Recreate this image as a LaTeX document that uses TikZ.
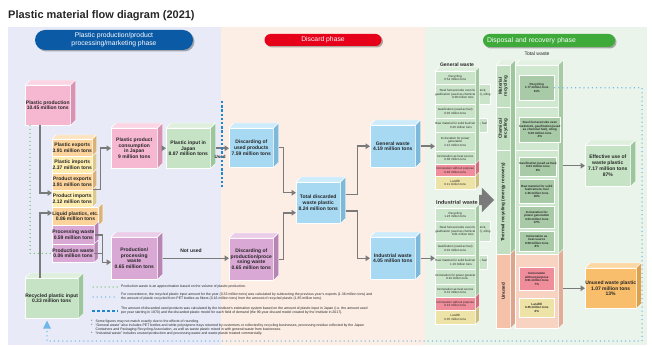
\documentclass[tikz,border=0pt]{standalone}
\usepackage{fontspec}
\setmainfont{Liberation Sans}
\usetikzlibrary{arrows.meta,calc,shapes.arrows,shadows}

% palette
\definecolor{panelA}{HTML}{E8EBF7}
\definecolor{panelB}{HTML}{FDEEE5}
\definecolor{panelC}{HTML}{EBF4EA}
\definecolor{hdBlue}{HTML}{0B5AA6}
\definecolor{hdRed}{HTML}{E60019}
\definecolor{hdGreen}{HTML}{3DAA3A}
\definecolor{pinkF}{HTML}{F6B7D0}\definecolor{pinkT}{HTML}{FAD6E4}\definecolor{pinkS}{HTML}{D893B2}
\definecolor{purpF}{HTML}{D9A8D5}\definecolor{purpT}{HTML}{EACDE8}\definecolor{purpS}{HTML}{B785B3}
\definecolor{bluF}{HTML}{A7D9F3}\definecolor{bluT}{HTML}{CDEBFA}\definecolor{bluS}{HTML}{7DB9DB}
\definecolor{grnF}{HTML}{C6E4C5}\definecolor{grnT}{HTML}{DEF0DD}\definecolor{grnS}{HTML}{9CC69B}
\definecolor{oranF}{HTML}{FBD39B}\definecolor{oranS}{HTML}{DDB073}\definecolor{oranT}{HTML}{FDE3BE}
\definecolor{yellF}{HTML}{FEEDB0}\definecolor{yellS}{HTML}{DDC98A}
\definecolor{unuF}{HTML}{F9BE6C}\definecolor{unuT}{HTML}{FCD9A4}\definecolor{unuS}{HTML}{DDA04B}
\definecolor{itemG}{HTML}{C9E4C8}\definecolor{itemGS}{HTML}{A2C7A1}\definecolor{itemGT}{HTML}{DDEEDC}
\definecolor{itemR}{HTML}{F08D9B}\definecolor{itemRS}{HTML}{D06E7C}
\definecolor{itemY}{HTML}{EEE3A6}\definecolor{itemYS}{HTML}{CBBF80}
\definecolor{colG}{HTML}{D0E8CF}\definecolor{colGS}{HTML}{A6CBA5}\definecolor{colGT}{HTML}{E2F1E1}
\definecolor{colP}{HTML}{F9D3C2}\definecolor{colPS}{HTML}{E2AD97}
\definecolor{labG}{HTML}{C2DFC1}\definecolor{labGS}{HTML}{9FC79E}\definecolor{labP}{HTML}{F6C1A9}\definecolor{labPS}{HTML}{DDA58C}
\definecolor{innG}{HTML}{A8CAA7}
\definecolor{arrGray}{HTML}{7A7A7A}
\definecolor{dotGreen}{HTML}{79C27A}
\definecolor{dotBlue}{HTML}{6DB8E6}
\definecolor{dashBlue}{HTML}{1F86CF}
\definecolor{ink}{HTML}{262626}

\newcommand\boxfont{\fontsize{5}{5.7}\selectfont\bfseries}
\newcommand\listfont{\fontsize{3}{3.5}\selectfont}
\newcommand\cellfont{\fontsize{3}{3.5}\selectfont\bfseries}
\newcommand\notefont{\fontsize{3.5}{3.9}\selectfont}
\newcommand\pillfont{\fontsize{6.8}{8}\selectfont}

% 3-D faces of a block: top face of one node, right face spanning two nodes
\newcommand\topface[3]{\filldraw[fill=#2,draw=white,line width=.4pt] (#1.north west) -- ++(#3,-#3) -- ($(#1.north east)+(#3,-#3)$) -- (#1.north east) -- cycle;}
\newcommand\sideface[4]{\filldraw[fill=#3,draw=white,line width=.4pt] (#1.north east) -- ++(#4,-#4) -- ($(#2.south east)+(#4,-#4)$) -- (#2.south east) -- cycle;}

\tikzset{
  box/.style={draw=white, line width=0.5pt, inner sep=0pt, anchor=north west, align=center, font=\boxfont, text=ink},
  item/.style={draw=white, line width=0.4pt, inner sep=0pt, anchor=north west, align=center, font=\listfont, minimum width=40, text=ink},
  cell/.style={draw=white, line width=0.6pt, inner sep=0pt, anchor=north west, align=center, font=\cellfont, minimum width=35, text=ink, fill=innG},
  slab/.style={draw=white, line width=0.4pt, inner sep=0pt, anchor=north west},
  vlabel/.style={rotate=90, align=center, font=\fontsize{4.6}{5.2}\selectfont\bfseries, text=ink},
  pill/.style={inner sep=0pt, text=white, font=\pillfont, align=center,
    drop shadow={shadow xshift=1.5pt, shadow yshift=-1.5pt, opacity=.3, fill=black}},
  arr/.style={draw=arrGray, line width=1.5pt, -{Triangle[length=4.5pt,width=5.5pt]}},
  ln/.style={draw=arrGray, line width=1.5pt},
  gdot/.style={draw=dotGreen, line width=1.5pt, line cap=round, dash pattern=on 0pt off 4pt},
  ldot/.style={draw=dotBlue, line width=1.5pt, line cap=round, dash pattern=on 0pt off 4.2pt},
  bdash/.style={draw=dashBlue, line width=2.2pt, dash pattern=on 2.4pt off 1.8pt},
  note/.style={font=\notefont, text=ink, inner sep=0pt, align=left},
}

\begin{document}
\begin{tikzpicture}[x=1pt,y=-1pt]
\useasboundingbox (0,0) rectangle (652,347);
\fill[white] (0,0) rectangle (652,347);

% phase panels
\fill[panelA] (8,27) rectangle (221,345);
\fill[panelB] (221,27) rectangle (425,345);
\fill[panelC] (425,27) rectangle (647,345);

\node[anchor=base west, inner sep=0pt, font=\fontsize{11}{13}\selectfont\bfseries, text=ink] (title) at (8,19) {Plastic material flow diagram (2021)};

% phase headers
\node[pill, fill=hdBlue, rounded corners=10pt, minimum width=158, minimum height=20] (ph1) at (114,40) {Plastic production/product\\processing/marketing phase};
\node[pill, fill=hdRed, rounded corners=6pt, minimum width=117, minimum height=12] (ph2) at (323,40) {Discard phase};
\node[pill, fill=hdGreen, rounded corners=6.5pt, minimum width=132, minimum height=13, text width=124, align=left] (ph3) at (549,40.5) {Disposal and recovery phase};

% ---------- production / marketing phase ----------
\node[box, fill=pinkF, minimum width=45, minimum height=40] (prod) at (25,85) {Plastic production\\10.45 million tons};
\topface{prod}{pinkT}{5}\sideface{prod}{prod}{pinkS}{5}

\node[box, fill=oranF, minimum width=40, minimum height=17] (s1) at (52,139) {Plastic exports\\3.91 million tons};
\node[box, fill=yellF, minimum width=40, minimum height=17] (s2) at (52,156) {Plastic imports\\2.37 million tons};
\node[box, fill=oranF, minimum width=40, minimum height=17] (s3) at (52,173) {Product exports\\3.91 million tons};
\node[box, fill=yellF, minimum width=40, minimum height=17] (s4) at (52,190) {Product imports\\2.12 million tons};
\node[box, fill=oranF, minimum width=40, minimum height=18] (s5) at (52,207) {Liquid plastics, etc.\\0.86 million tons};
\node[box, fill=purpF, minimum width=40, minimum height=19] (s6) at (52,225) {Processing waste\\0.59 million tons};
\node[box, fill=purpF, minimum width=40, minimum height=18] (s7) at (52,244) {Production waste\\0.06 million tons};
\topface{s1}{oranT}{4}
\sideface{s1}{s1}{oranS}{4}\sideface{s2}{s2}{yellS}{4}\sideface{s3}{s3}{oranS}{4}
\sideface{s4}{s4}{yellS}{4}\sideface{s5}{s5}{oranS}{4}\sideface{s6}{s6}{purpS}{4}\sideface{s7}{s7}{purpS}{4}

\node[box, fill=pinkF, minimum width=46, minimum height=40] (cons) at (111,128) {Plastic product\\consumption\\in Japan\\9 million tons};
\topface{cons}{pinkT}{5}\sideface{cons}{cons}{pinkS}{5}
\node[box, fill=grnF, minimum width=44, minimum height=40] (input) at (166,128) {Plastic input in\\Japan\\8.87 million tons};
\topface{input}{grnT}{5}\sideface{input}{input}{grnS}{5}
\node[box, fill=purpF, minimum width=46, minimum height=42] (ppw) at (111,237) {Production/\\processing\\waste\\0.65 million tons};
\topface{ppw}{purpT}{5}\sideface{ppw}{ppw}{purpS}{5}
\node[box, fill=grnF, minimum width=47, minimum height=40] (recyc) at (25,278) {Recycled plastic input\\0.33 million tons};
\topface{recyc}{grnT}{5}\sideface{recyc}{recyc}{grnS}{5}

% ---------- discard phase ----------
\node[box, fill=bluF, minimum width=44, minimum height=39] (dused) at (229,128) {Discarding of\\used products\\7.59 million tons};
\topface{dused}{bluT}{5}\sideface{dused}{dused}{bluS}{5}
\node[box, fill=purpF, minimum width=44, minimum height=42] (dprod) at (229,238) {Discarding of\\production/proce\\ssing waste\\0.65 million tons};
\topface{dprod}{purpT}{5}\sideface{dprod}{dprod}{purpS}{5}
\node[box, fill=bluF, minimum width=44, minimum height=41] (total) at (296,182) {Total discarded\\waste plastic\\8.24 million tons};
\topface{total}{bluT}{5}\sideface{total}{total}{bluS}{5}
\node[box, fill=bluF, minimum width=45, minimum height=42] (gen) at (370,125) {General waste\\4.19 million tons};
\topface{gen}{bluT}{5}\sideface{gen}{gen}{bluS}{5}
\node[box, fill=bluF, minimum width=45, minimum height=42] (ind) at (370,237) {Industrial waste\\4.05 million tons};
\topface{ind}{bluT}{5}\sideface{ind}{ind}{bluS}{5}

% ---------- treatment lists ----------
\node[font=\fontsize{5}{6}\selectfont\bfseries, text=ink] (gwl) at (457,65) {General waste};
\node[item, fill=itemG, minimum height=13] (g1) at (435,71) {Recycling\\0.54 million tons};
\node[item, fill=itemG, minimum height=20] (g2) at (435,84) {Steel furnace/coke oven feedstock,\\gasification (used as chemical fuel), oiling\\0.28 million tons};
\node[item, fill=itemG, minimum height=14] (g3) at (435,104) {Gasification (used as fuel)\\0.02 million tons};
\node[item, fill=itemG, minimum height=14] (g4) at (435,118) {Raw material for solid fuel/cement, fuel\\0.26 million tons};
\node[item, fill=itemG, minimum height=19] (g5) at (435,132) {Incineration for power\\generation\\2.12 million tons};
\node[item, fill=itemG, minimum height=13] (g6) at (435,151) {Incineration as heat source\\0.38 million tons};
\node[item, fill=itemR, minimum height=12] (g7) at (435,164) {Incineration without purpose\\0.48 million tons};
\node[item, fill=itemY, minimum height=13] (g8) at (435,176) {Landfill\\0.11 million tons};
\topface{g1}{itemGT}{4}
\sideface{g1}{g6}{itemGS}{4}\sideface{g7}{g7}{itemRS}{4}\sideface{g8}{g8}{itemYS}{4}

\node[font=\fontsize{5.5}{6.5}\selectfont\bfseries, text=ink] (iwl) at (457,203) {Industrial waste};
\node[item, fill=itemG, minimum height=13] (i1) at (435,208) {Recycling\\1.23 million tons};
\node[item, fill=itemG, minimum height=20] (i2) at (435,221) {Steel furnace/coke oven feedstock,\\gasification (used as chemical fuel), oiling\\0.01 million tons};
\node[item, fill=itemG, minimum height=14] (i3) at (435,241) {Gasification (used as fuel)\\0.01 million tons};
\node[item, fill=itemG, minimum height=14] (i4) at (435,255) {Raw material for solid fuel/cement, fuel\\1.10 million tons};
\node[item, fill=itemG, minimum height=15] (i5) at (435,269) {Incineration for power generation\\0.91 million tons};
\node[item, fill=itemG, minimum height=13] (i6) at (435,284) {Incineration as heat source\\0.31 million tons};
\node[item, fill=itemR, minimum height=13] (i7) at (435,297) {Incineration without purpose\\0.13 million tons};
\node[item, fill=itemY, minimum height=14] (i8) at (435,310) {Landfill\\0.35 million tons};
\topface{i1}{itemGT}{4}
\sideface{i1}{i6}{itemGS}{4}\sideface{i7}{i7}{itemRS}{4}\sideface{i8}{i8}{itemYS}{4}

\node[single arrow, fill=arrGray, inner sep=0pt, inner ysep=5pt, single arrow head extend=7pt, single arrow head indent=0pt, minimum height=15pt] (bigarr) at (484,200) {};

% ---------- total waste column ----------
\node[font=\fontsize{5}{6}\selectfont, text=ink] (twl) at (537,54) {Total waste};
\node[slab, fill=labG, minimum width=14, minimum height=42] (lm) at (496,65) {};
\node[slab, fill=labG, minimum width=14, minimum height=43] (lc) at (496,107) {};
\node[slab, fill=labG, minimum width=14, minimum height=104] (lt) at (496,150) {};
\node[slab, fill=labP, minimum width=14, minimum height=74] (lu) at (496,254) {};
\topface{lm}{colGT}{5}
\sideface{lm}{lt}{labGS}{5}\sideface{lu}{lu}{labPS}{5}
\node[vlabel] (lmt) at (lm.center) {Material\\recycling};
\node[vlabel] (lct) at (lc.center) {Chemical\\recycling};
\node[vlabel] (ltt) at (lt.center) {Thermal recycling (energy recovery)};
\node[vlabel] (lut) at (lu.center) {Unused};

\node[slab, fill=colG, minimum width=43, minimum height=42] (mm) at (515,65) {};
\node[slab, fill=colG, minimum width=43, minimum height=43] (mc) at (515,107) {};
\node[slab, fill=colG, minimum width=43, minimum height=104] (mt) at (515,150) {};
\node[slab, fill=colP, minimum width=43, minimum height=74] (mu) at (515,254) {};
\topface{mm}{colGT}{5}
\sideface{mm}{mt}{colGS}{5}\sideface{mu}{mu}{colPS}{5}

\node[cell, minimum height=25] (m1) at (519,75) {Recycling\\1.77 million tons\\21\%};
\node[cell, minimum height=25] (c1) at (519,117) {Steel furnace/coke oven\\feedstock, gasification (used\\as chemical fuel), oiling\\0.29 million tons\\4\%};
\node[cell, minimum height=19] (t1) at (519,157) {Gasification (used as fuel)\\0.03 million tons\\0\%};
\node[cell, minimum height=24] (t2) at (519,179) {Raw material for solid\\fuel/cement, fuel\\1.36 million tons\\16\%};
\node[cell, minimum height=22] (t3) at (519,206) {Incineration for\\power generation\\3.03 million tons\\37\%};
\node[cell, minimum height=20] (t4) at (519,231) {Incineration as\\heat source\\0.69 million tons\\8\%};
\node[cell, fill=itemR, minimum height=23] (u1) at (519,267) {Incineration\\without purpose\\0.61 million tons\\7\%};
\node[cell, fill=itemY, minimum height=19] (u2) at (519,298) {Landfill\\0.46 million tons\\6\%};

\node[box, fill=grnF, minimum width=45, minimum height=41] (eff) at (585,145) {Effective use of\\waste plastic\\7.17 million tons\\87\%};
\topface{eff}{grnT}{5}\sideface{eff}{eff}{grnS}{5}
\node[box, fill=unuF, minimum width=45, minimum height=40] (unu) at (585,268) {Unused waste plastic\\1.07 million tons\\13\%};
\topface{unu}{unuT}{5}\sideface{unu}{unu}{unuS}{5}

% ---------- flows ----------
\draw[gdot] ([xshift=5pt]prod.south west) |- (s7.west);
\draw[arr] ([xshift=15pt]prod.south west) |- ([yshift=-3pt]s4.north west);
\draw[arr] ([xshift=15pt]recyc.north west) |- ([yshift=-6pt]s5.north west);
\draw[arr] ([yshift=-8pt]s3.east) -- ++(8,0) |- (cons.west);
\draw[arr] ([xshift=5pt]cons.east) -- (input.west);
\draw[arr] ([xshift=5pt]input.east) -- (input.east -| dused.west);
\node[font=\fontsize{4.5}{5}\selectfont\bfseries, text=ink, inner sep=0pt] (usedl) at (220,157) {Used};
\draw[ln] (s7.east) -- ++(8,0);
\draw[arr] (s6.east) -- ++(8,0) |- ([yshift=-4pt]ppw.west);
\draw[arr] ([xshift=5pt]ppw.east) -- (ppw.east -| dprod.west);
\node[font=\fontsize{5}{6}\selectfont\bfseries, text=ink] (nul) at (191,251) {Not used};

\coordinate (bdA) at (222,101);
\coordinate (bdB) at (222,187);
\draw[bdash] (bdA) -- (bdB);

\draw[arr] ([xshift=5pt]dused.east) -- ++(5,0) |- ([yshift=10pt]total.west);
\draw[arr] ([xshift=5pt]dprod.east) -- ++(5,0) |- ([yshift=-10pt]total.west);
\draw[arr] ([xshift=5pt,yshift=8pt]total.east) -- ++(12,0) |- (gen.west);
\draw[arr] ([xshift=5pt,yshift=-8pt]total.east) -- ++(12,0) |- (ind.west);
\draw[arr] ([xshift=5pt]gen.east) -- (gen.east -| g5.west);
\draw[arr] ([xshift=5pt]ind.east) -- (ind.east -| i4.west);
\draw[arr] ($(mt.east |- eff.west)+(5,0)$) -- (eff.west);
\draw[arr] ($(mu.east |- unu.west)+(5,0)$) -- (unu.west);

% recycled-plastic loop back to the input
\coordinate (ldR) at (642,341);
\coordinate (ldL) at (47,341);
\draw[ldot] (m1.east) -| (ldR) -- (ldL) -- ($(ldL |- recyc.south)+(0,12)$);
\fill[dotBlue] ($(ldL |- recyc.south)+(0,2)$) coordinate (tipA) -- ++(4,8) -- ++(-8,0) -- cycle;

% ---------- notes ----------
\coordinate (lg1a) at (93,287); \coordinate (lg1b) at (117,287);
\coordinate (lg2a) at (93,297); \coordinate (lg2b) at (117,297);
\coordinate (lg3a) at (92,311); \coordinate (lg3b) at (118,311);
\draw[gdot] (lg1a) -- (lg1b);
\draw[ldot] (lg2a) -- (lg2b);
\draw[bdash, dash pattern=on 3pt off 2pt] (lg3a) -- (lg3b);
\node[note, anchor=west] (n1) at (121,287) {Production waste is an approximation based on the volume of plastic production.};
\node[note, anchor=west] (n2) at (121,297) {For convenience, the recycled plastic input amount for the year (0.33 million tons) was calculated by subtracting the previous year's exports (1.36 million tons) and\\the amount of plastic recycled from PET bottles as fibers (0.16 million tons) from the amount of recycled plastic (1.85 million tons).};
\node[note, anchor=west] (n3) at (121,311) {The amount of discarded used products was calculated by the Institute's estimation system based on the amount of plastic input in Japan (i.e. the amount used\\per year starting in 1970) and the discarded plastic model for each field of demand (the 99-year discard model created by the Institute in 2017).};
\node[note, anchor=north west] (n4) at (91,320) {*\hspace{3pt}Some figures may not match exactly due to the effects of rounding.\\*\hspace{3pt}“General waste” also includes PET bottles and white polystyrene trays returned by customers or collected by recycling businesses, processing residue collected by the Japan\\\phantom{*}\hspace{3pt}Containers and Packaging Recycling Association, as well as waste plastic mixed in with general waste from businesses.\\*\hspace{3pt}“Industrial waste” includes unused production and processing waste and waste plastic treated commercially.};
\end{tikzpicture}
\end{document}
